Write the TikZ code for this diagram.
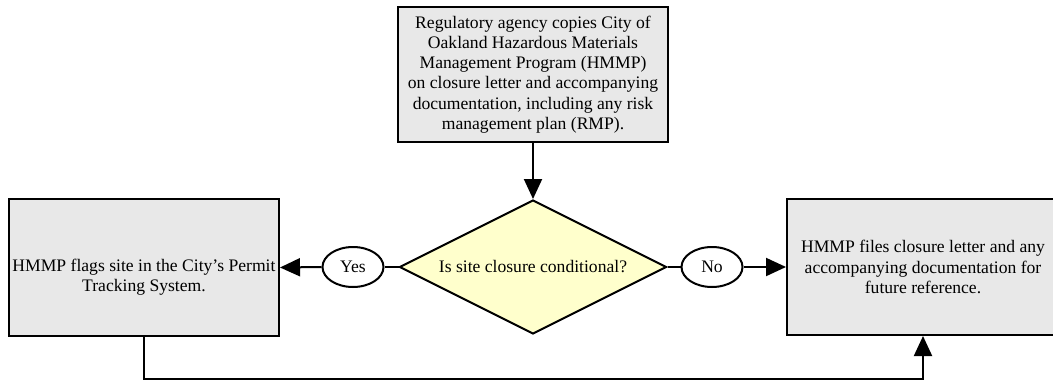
\documentclass[tikz,border=0pt]{standalone}
\usepackage{fontspec}
\setmainfont{Liberation Serif}
\usepackage{tikz}
\usetikzlibrary{shapes,arrows.meta,positioning,calc}
\usepackage{xcolor}
\definecolor{boxgray}{HTML}{E8E8E8}
\definecolor{decideyellow}{HTML}{FFFFCC}

\begin{document}
\begin{tikzpicture}[x=0.5pt, y=-0.5pt,
    font=\fontsize{8.8pt}{10.1pt}\selectfont,
    procbox/.style={draw, line width=1pt, fill=boxgray, inner sep=0pt, align=center},
    decidebox/.style={draw, line width=1pt, fill=decideyellow, diamond, aspect=2, inner sep=0pt,
        minimum width=133.5pt, minimum height=67pt},
    answer/.style={draw, line width=1pt, fill=white, ellipse, inner sep=0pt,
        minimum width=30.5pt, minimum height=20pt},
    flow/.style={line width=1pt, -{Triangle[length=10pt, width=9pt]}},
    joint/.style={line width=1pt}]
    % page size, right box runs off the edge
    \path[use as bounding box] (0,0) rectangle (1053,380);
    \clip (0,0) rectangle (1053,380);
    % regulatory agency step
    \node[procbox, minimum width=135pt, minimum height=67.5pt] (agency) at (533,74.5)
        {Regulatory agency copies City of\\Oakland Hazardous Materials\\Management Program (HMMP)\\on closure letter and accompanying\\documentation, including any risk\\management plan (RMP).};
    % decision
    \node[decidebox] (decide) at (533,267) {Is site closure conditional?};
    \node[answer] (yes) at (353,267) {Yes};
    \node[answer] (no) at (712,267) {No};
    % outcomes
    \node[procbox, minimum width=135pt, minimum height=68.5pt] (flag) at (144,267.5) {};
    \node[align=center] (flagtext) at ($(flag.center)+(0,10)$)
        {HMMP flags site in the City’s Permit\\Tracking System.};
    \node[procbox, minimum width=136pt, minimum height=68pt] (file) at (923,267)
        {HMMP files closure letter and any\\accompanying documentation for\\future reference.};
    % connectors
    \draw[flow] (agency.south) -- (decide.north);
    \draw[joint] (decide.west) -- (yes.east);
    \draw[flow] (yes.west) -- (flag.east);
    \draw[joint] (decide.east) -- (no.west);
    \draw[flow] (no.east) -- (file.west);
    \draw[flow] (flag.south) -- ++(0,42) -| (file.south);
\end{tikzpicture}
\end{document}
